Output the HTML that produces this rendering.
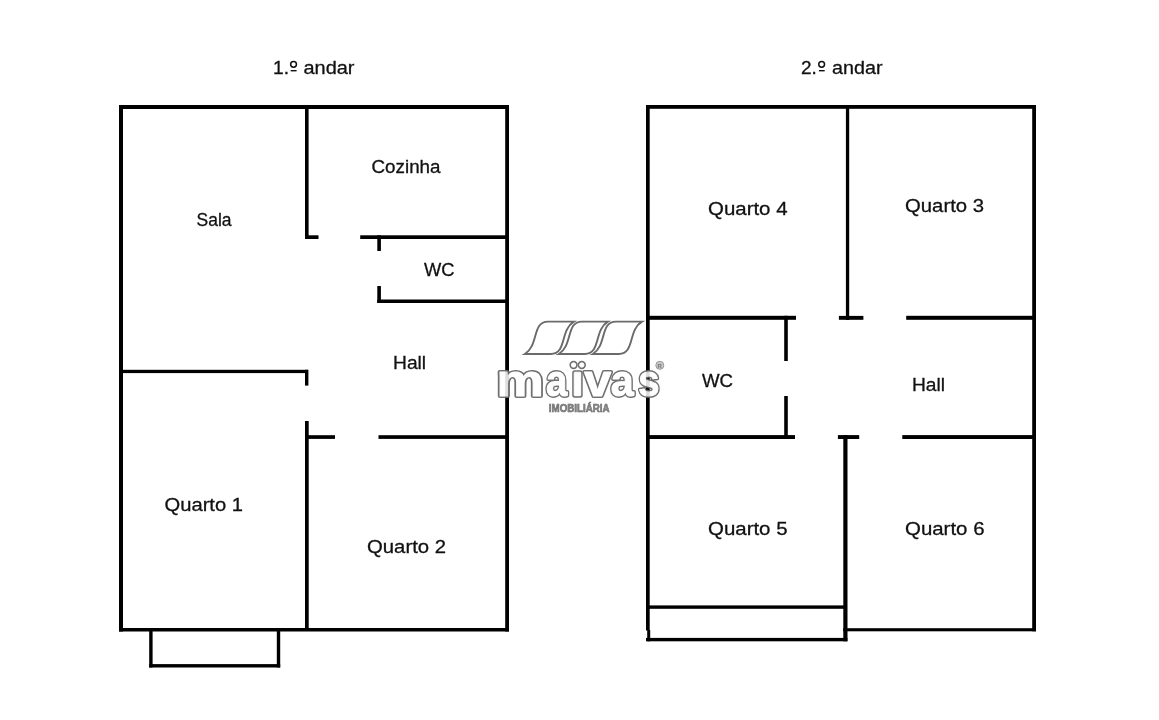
<!DOCTYPE html>
<html><head><meta charset="utf-8">
<style>
html,body{margin:0;padding:0;background:#fff;}
body{width:1159px;height:720px;overflow:hidden;position:relative;}
svg{position:absolute;left:0;top:0;will-change:transform;}
.lb text{font-family:"Liberation Sans",sans-serif;font-size:19px;fill:#111;stroke:#111;stroke-width:0.3px;}
</style></head>
<body>
<svg width="1159" height="720" viewBox="0 0 1159 720">
<g fill="#000">
<!-- LEFT PLAN -->
<rect x="119" y="105" width="390" height="4"/>
<rect x="119" y="105" width="4" height="526.5"/>
<rect x="505.2" y="105" width="3.8" height="526.5"/>
<rect x="119" y="628" width="390" height="3.5"/>
<!-- cozinha left wall -->
<rect x="305" y="105" width="3.6" height="134"/>
<rect x="305" y="235.3" width="13.5" height="3.7"/>
<!-- wc -->
<rect x="360.2" y="235.3" width="148" height="3.7"/>
<rect x="377.3" y="235.3" width="3.6" height="15.7"/>
<rect x="377.3" y="286" width="3.6" height="17"/>
<rect x="377.3" y="299.5" width="131" height="3.5"/>
<!-- sala bottom -->
<rect x="119" y="369.8" width="189" height="3.3"/>
<rect x="305" y="369.8" width="3.4" height="15.8"/>
<!-- lower -->
<rect x="305" y="421" width="3.7" height="210"/>
<rect x="305" y="435.2" width="30" height="3.7"/>
<rect x="378.5" y="435.2" width="130" height="3.7"/>
<!-- balcony -->
<rect x="149.2" y="628" width="3.4" height="39.5"/>
<rect x="276.8" y="628" width="3.4" height="39.5"/>
<rect x="149.2" y="664.1" width="131" height="3.4"/>

<!-- RIGHT PLAN -->
<rect x="646" y="105" width="390" height="3.8"/>
<rect x="646" y="105" width="3.7" height="525.5"/>
<rect x="647.2" y="630" width="3" height="11.3"/>
<rect x="1032.2" y="105" width="3.8" height="526.3"/>
<rect x="843.2" y="628.2" width="192.8" height="3.1"/>
<!-- middle top -->
<rect x="845.9" y="105" width="3.3" height="215"/>
<rect x="838.9" y="315.9" width="24.5" height="3.9"/>
<!-- wc top & hall top -->
<rect x="646" y="315.8" width="150" height="4"/>
<rect x="906.2" y="315.8" width="129.8" height="4"/>
<!-- wc right -->
<rect x="784.2" y="315.8" width="3.6" height="45.2"/>
<rect x="784.2" y="396" width="3.6" height="43"/>
<!-- bottom walls -->
<rect x="646" y="435.1" width="149" height="3.9"/>
<rect x="837.9" y="435.1" width="21.3" height="3.9"/>
<rect x="902.3" y="435.1" width="133.7" height="3.9"/>
<rect x="843.3" y="435.1" width="4.2" height="206.2"/>
<!-- quarto 5 balcony -->
<rect x="646" y="605.4" width="201" height="3.4"/>
<rect x="646" y="637.9" width="201.4" height="3.4"/>
</g>


<defs>
<filter id="bl" x="-20%" y="-20%" width="140%" height="140%"><feGaussianBlur stdDeviation="0.6"/></filter>
<path id="sh" d="M524.9,354 C538.9,345.6 531.9,321.6 547.9,321.6 L573.9,321.6 C559.9,330 566.9,354 550.9,354 Z"/>
<g id="lt" style="font-family:'Liberation Sans',sans-serif;font-weight:bold;font-size:44px">
<g transform="translate(500,395.7) scale(1.21,1)"><text x="-2.90" y="0">m</text></g>
<g transform="translate(547.2,395.7) scale(0.87,1)"><text x="-1.29" y="0">a</text></g>
<g transform="translate(584.5,395.7) scale(1.1,1)"><text x="-0.17" y="0">v</text></g>
<g transform="translate(612,395.7) scale(0.94,1)"><text x="-1.29" y="0">a</text></g>
<g transform="translate(639.7,395.7) scale(0.87,1)"><text x="-1.55" y="0">s</text></g>
<rect x="574.2" y="372.2" width="6.5" height="23.5" rx="0.5"/>
<circle cx="573.6" cy="365" r="2.2"/>
<circle cx="581.8" cy="365" r="2.2"/>
</g>
</defs>
<g filter="url(#bl)">
<g fill="none" stroke="#6a6a6a" stroke-width="1.9" stroke-linejoin="miter">
<use href="#sh"/>
<use href="#sh" transform="translate(34,0)"/>
<use href="#sh" transform="translate(68,0)"/>
</g>
<use href="#lt" fill="#707070" stroke="#707070" stroke-width="4" stroke-linejoin="round"/>
<use href="#lt" fill="#fff" stroke="#fff" stroke-width="1" stroke-linejoin="round"/>
<text x="548.8" y="411.8" textLength="60.8" lengthAdjust="spacingAndGlyphs" style="font-family:'Liberation Sans',sans-serif;font-weight:bold;font-size:11.6px;fill:#8a8a8a;stroke:#666;stroke-width:0.6">IMOBILIÁRIA</text>
<circle cx="659.8" cy="365.3" r="4" fill="#c8c8c8" stroke="#999" stroke-width="1"/>
<text x="657.5" y="367.8" style="font-family:'Liberation Sans',sans-serif;font-weight:bold;font-size:6px;fill:#777">R</text>
</g>
<rect x="505.2" y="360" width="3.8" height="40" fill="#000" fill-opacity="0.13"/>
<rect x="646" y="360" width="3.7" height="40" fill="#000" fill-opacity="0.13"/>
<g class="lb">
<text x="273.00" y="73.8" textLength="15.96" lengthAdjust="spacingAndGlyphs">1.</text>
<text x="303.50" y="73.7" textLength="51.01" lengthAdjust="spacingAndGlyphs">andar</text>
<text x="801.00" y="73.8" textLength="15.87" lengthAdjust="spacingAndGlyphs">2.</text>
<text x="832.00" y="73.7" textLength="50.51" lengthAdjust="spacingAndGlyphs">andar</text>
<text x="371.50" y="172.6" textLength="69.02" lengthAdjust="spacingAndGlyphs">Cozinha</text>
<text x="196.50" y="226.2" textLength="35.04" lengthAdjust="spacingAndGlyphs">Sala</text>
<text x="424.00" y="276" textLength="30.51" lengthAdjust="spacingAndGlyphs">WC</text>
<text x="393.00" y="368.8" textLength="33.12" lengthAdjust="spacingAndGlyphs">Hall</text>
<text x="164.50" y="510.7" textLength="78.54" lengthAdjust="spacingAndGlyphs">Quarto 1</text>
<text x="367.00" y="552.9" textLength="79.03" lengthAdjust="spacingAndGlyphs">Quarto 2</text>
<text x="708.00" y="214.6" textLength="79.54" lengthAdjust="spacingAndGlyphs">Quarto 4</text>
<text x="905.00" y="211.6" textLength="79.02" lengthAdjust="spacingAndGlyphs">Quarto 3</text>
<text x="702.00" y="386.5" textLength="31.03" lengthAdjust="spacingAndGlyphs">WC</text>
<text x="912.00" y="390.6" textLength="33.09" lengthAdjust="spacingAndGlyphs">Hall</text>
<text x="708.00" y="534.6" textLength="79.54" lengthAdjust="spacingAndGlyphs">Quarto 5</text>
<text x="905.00" y="534.6" textLength="79.52" lengthAdjust="spacingAndGlyphs">Quarto 6</text>
<g fill="none" stroke="#111" stroke-width="1.5"><ellipse cx="293.55" cy="64.3" rx="2.9" ry="2.85"/><ellipse cx="821.65" cy="64.3" rx="2.9" ry="2.85"/></g>
<rect x="290.7" y="70" width="5.9" height="1.4" fill="#111"/><rect x="818.9" y="70" width="5.8" height="1.4" fill="#111"/>
</g>
</svg>
</body></html>
